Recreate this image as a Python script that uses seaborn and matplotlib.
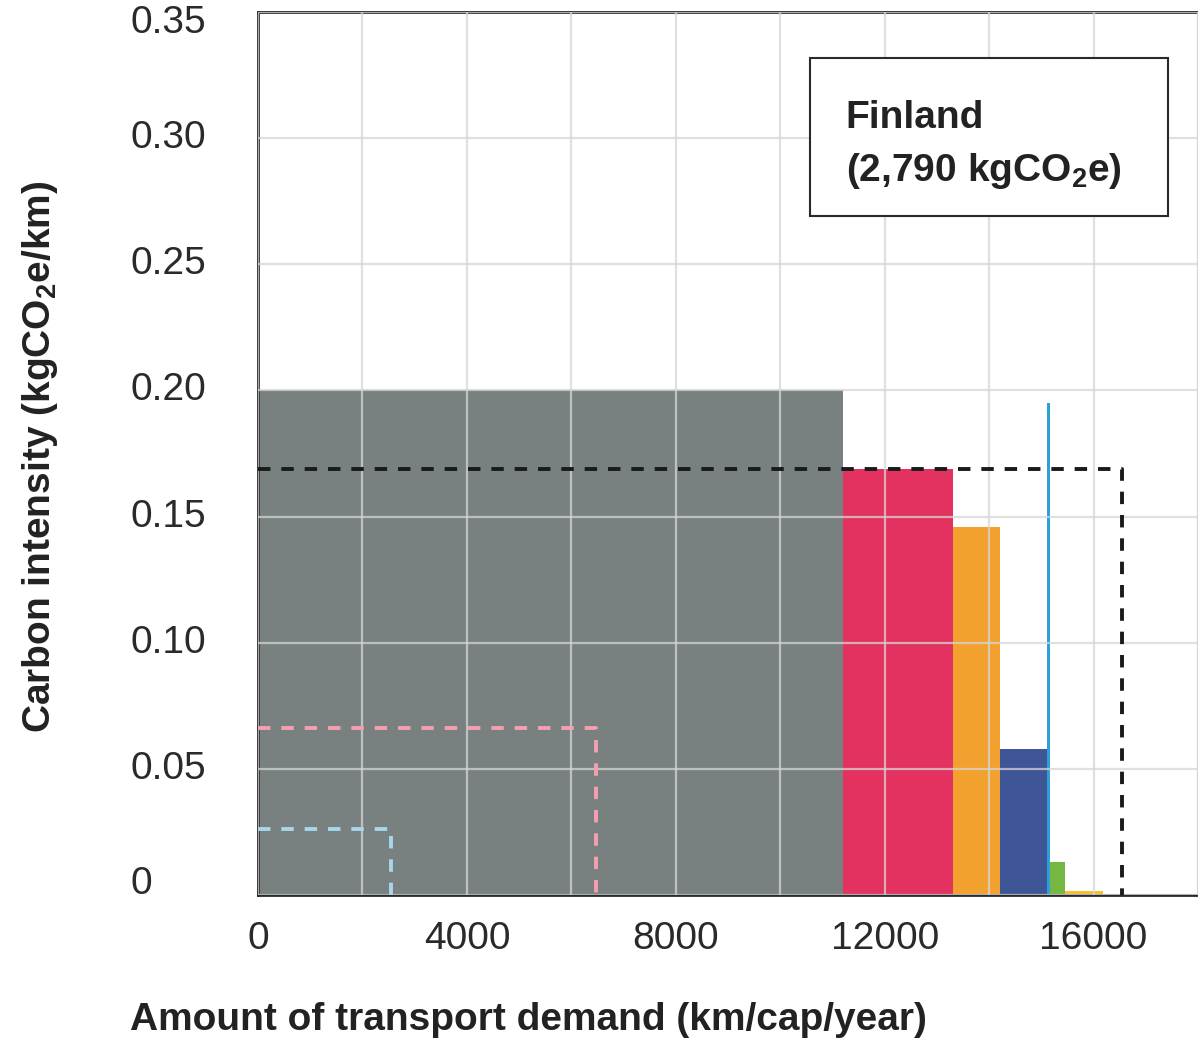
import numpy as np
import pandas as pd
import seaborn as sns
import matplotlib.pyplot as plt
from matplotlib.patches import Rectangle

# transport mode segments (width = demand, height = carbon intensity)
modes = ["Car", "Bus", "Train", "Tram", "Ferry", "Bike", "Walk"]
demand = [11200, 2100, 900, 900, 60, 300, 720]          # km/cap/year
intensity = [0.200, 0.169, 0.146, 0.058, 0.195, 0.013, 0.0015]  # kgCO2e/km
mode_colors = ["#798080", "#e3325f", "#f2a12e", "#3e5597", "#2ea0d8", "#74b743", "#f5c030"]

# reference rectangles (dashed outlines)
ref_names = ["Finland", "Target 2030", "Target 2050"]
ref_demand = [16550, 6480, 2540]
ref_intensity = [0.169, 0.066, 0.026]
ref_colors = ["#1a1a1a", "#f4a0b0", "#a8d6ea"]

x_ticks = [0, 4000, 8000, 12000, 16000]
y_ticks = [0, 0.05, 0.10, 0.15, 0.20, 0.25, 0.30, 0.35]
y_labels = ["0", "0.05", "0.10", "0.15", "0.20", "0.25", "0.30", "0.35"]

sns.set_theme(style="whitegrid")
plt.rcParams["font.family"] = ["Liberation Sans", "DejaVu Sans"]
plt.rcParams["mathtext.fontset"] = "custom"
plt.rcParams["mathtext.rm"] = "Liberation Sans"
plt.rcParams["mathtext.bf"] = "Liberation Sans:bold"

fig = plt.figure(figsize=(11.98, 10.42), dpi=100)
ax = fig.add_axes([258 / 1198, 1 - 895 / 1042, 940 / 1198, 883 / 1042])

df = pd.DataFrame({"mode": modes, "demand": demand, "intensity": intensity})
df["start"] = np.concatenate([[0], np.cumsum(demand)[:-1]])

ax.bar(df["start"], df["intensity"], width=df["demand"], align="edge",
       color=mode_colors, linewidth=0, zorder=1)

# dashed outlines
for name, d, h, c in zip(ref_names, ref_demand, ref_intensity, ref_colors):
    line = pd.DataFrame({"x": [0, d, d], "y": [h, h, 0]})
    sns.lineplot(data=line, x="x", y="y", sort=False, estimator=None, ax=ax,
                 color=c, linewidth=2.8, dashes=False, zorder=3)
    ax.lines[-1].set_dashes((3.2, 2.8))

ax.set_xlim(0, 18000)
ax.set_ylim(0, 0.35)
ax.set_xticks(np.arange(0, 18001, 2000))
ax.set_xticklabels([str(v) if v in x_ticks else "" for v in range(0, 18001, 2000)])
ax.set_yticks(y_ticks)
ax.set_yticklabels([""] * len(y_ticks))

# y tick labels, left aligned; first and last nudged inward like the original
for v, s in zip(y_ticks, y_labels):
    shift = 8 if v == 0 else (-8 if v == 0.35 else 0)
    ax.annotate(s, xy=(-128 / 940, v), xycoords=("axes fraction", "data"),
                xytext=(0, shift), textcoords="offset points",
                ha="left", va="center", fontsize=28, color="#2a2a2a",
                annotation_clip=False)

ax.set_axisbelow(False)
ax.grid(True, color="#d6d6d6", linewidth=1.6, alpha=0.75, zorder=2)
ax.tick_params(axis="both", length=0, labelsize=28, labelcolor="#2a2a2a")
ax.tick_params(axis="x", pad=19)

for side in ["left", "bottom", "top"]:
    ax.spines[side].set_color("#2a2a2a")
    ax.spines[side].set_linewidth(2)
ax.spines["right"].set_color("#d6d6d6")
ax.spines["right"].set_linewidth(1.5)

ax.set_xlabel("")
ax.set_ylabel("")

# annotation box
box = Rectangle((10570, 0.2692), 6850, 0.0627, facecolor="white",
                edgecolor="#2a2a2a", linewidth=1.5, zorder=4)
ax.add_patch(box)
ax.text(11250, 0.3041, "Finland", fontsize=28, fontweight="bold",
        color="#222222", va="baseline", ha="left", zorder=5)
ax.text(11250, 0.2831, r"(2,790 kgCO$_\mathbf{2}$e)", fontsize=28, fontweight="bold",
        color="#222222", va="baseline", ha="left", zorder=5)

fig.text(40 / 1198, 1 - 457 / 1042, r"Carbon intensity (kgCO$_\mathbf{2}$e/km)",
         rotation=90, fontsize=28, fontweight="bold", color="#222222",
         ha="center", va="center")
fig.text(130 / 1198, 1 - 1020 / 1042, "Amount of transport demand (km/cap/year)",
         fontsize=28, fontweight="bold", color="#222222",
         ha="left", va="center")

fig.savefig("out.png", dpi=100)
